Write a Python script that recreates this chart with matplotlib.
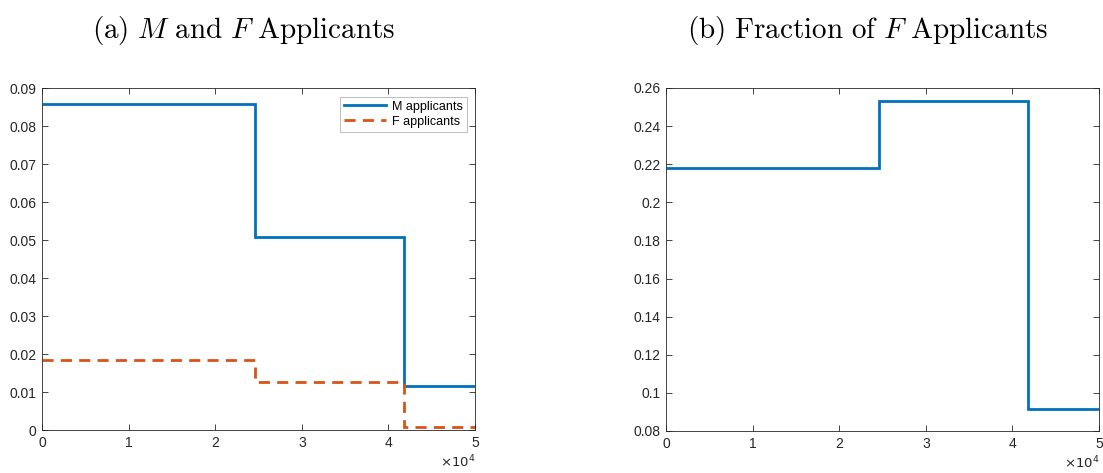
import matplotlib
matplotlib.use("Agg")
import matplotlib.pyplot as plt
import numpy as np

# Data
edges = [0, 24600, 41850, 50000]
m_applicants = [0.0857, 0.0507, 0.0116]
f_applicants = [0.0185, 0.0127, 0.0008]
f_fraction = [0.2178, 0.2533, 0.0913]

titles = [r"$\mathrm{(a)}\ M\ \mathrm{and}\ F\ \mathrm{Applicants}$",
          r"$\mathrm{(b)\ Fraction\ of}\ F\ \mathrm{Applicants}$"]
xticks = [0, 10000, 20000, 30000, 40000, 50000]
xticklabels = ["0", "1", "2", "3", "4", "5"]
yticks_a = [0, 0.01, 0.02, 0.03, 0.04, 0.05, 0.06, 0.07, 0.08, 0.09]
yticklabels_a = ["0", "0.01", "0.02", "0.03", "0.04", "0.05", "0.06", "0.07", "0.08", "0.09"]
yticks_b = [0.08, 0.10, 0.12, 0.14, 0.16, 0.18, 0.20, 0.22, 0.24, 0.26]
yticklabels_b = ["0.08", "0.1", "0.12", "0.14", "0.16", "0.18", "0.2", "0.22", "0.24", "0.26"]

BLUE = "#0072BD"
ORANGE = "#D95319"
TXT = "#262626"

plt.rcParams["mathtext.fontset"] = "cm"
plt.rcParams["font.family"] = ["Liberation Sans", "DejaVu Sans"]

fig = plt.figure(figsize=(11.03, 4.73), dpi=100)
W, H = 1103, 473
ax1 = fig.add_axes([42 / W, 1 - 430 / H, (475 - 42) / W, (430 - 88) / H])
ax2 = fig.add_axes([666 / W, 1 - 431 / H, (1099 - 666) / W, (431 - 88) / H])

ax1.stairs(m_applicants, edges, baseline=None, color=BLUE, lw=2.0, label="M applicants")
ax1.stairs(f_applicants, edges, baseline=None, color=ORANGE, lw=2.0, ls=(0, (4, 2.6)),
           label="F applicants")
ax2.stairs(f_fraction, edges, baseline=None, color=BLUE, lw=2.0)

ax1.set_ylim(0, 0.09)
ax1.set_yticks(yticks_a)
ax1.set_yticklabels(yticklabels_a)
ax2.set_ylim(0.08, 0.26)
ax2.set_yticks(yticks_b)
ax2.set_yticklabels(yticklabels_b)

for ax, t in zip([ax1, ax2], titles):
    ax.set_xlim(0, 50000)
    ax.set_xticks(xticks)
    ax.set_xticklabels(xticklabels)
    ax.tick_params(direction="in", top=True, right=True, length=4, width=0.6,
                   colors=TXT, labelsize=10, pad=4)
    for s in ax.spines.values():
        s.set_color(TXT)
        s.set_linewidth(0.6)
    ax.text(1.0, -0.068, r"$\times10^4$", transform=ax.transAxes, ha="right", va="top",
            fontsize=9.5, color=TXT, math_fontfamily="dejavusans")
    ax.set_title(t, fontsize=21, pad=36, color="black", x=0.465)

leg = ax1.legend(loc="upper right", fontsize=9, frameon=True, fancybox=False,
                 edgecolor="#a0a0a0", handlelength=3.4, borderpad=0.3,
                 labelspacing=0.25, handletextpad=0.5, borderaxespad=0.3,
                 bbox_to_anchor=(0.99, 0.985))
leg.get_frame().set_linewidth(0.6)

fig.savefig("out.png", dpi=100)
